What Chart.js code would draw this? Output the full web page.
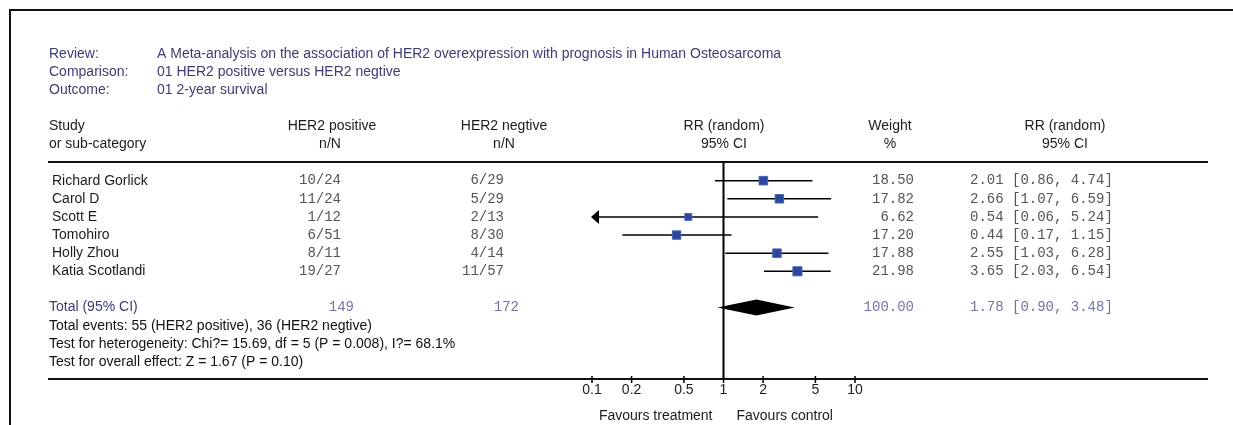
<!DOCTYPE html>
<html lang="en">
<head>
  <meta charset="UTF-8">
  <title>HER2 overexpression - 2-year survival</title>
  <script src="https://cdn.jsdelivr.net/npm/chart.js"></script>
  <style>
    html, body { margin: 0; padding: 0; background: #fff; overflow: hidden; }
    #wrap { width: 1233px; height: 425px; position: relative; }
  </style>
</head>
<body>
  <div id="wrap"><canvas id="forest"></canvas></div>

  <script>
    // data
    const studies = ["Richard Gorlick", "Carol D", "Scott E", "Tomohiro", "Holly Zhou", "Katia Scotlandi"];
    const posEvents = [10, 11, 1, 6, 8, 19];
    const posTotal = [24, 24, 12, 51, 11, 27];
    const negEvents = [6, 5, 2, 8, 4, 11];
    const negTotal = [29, 29, 13, 30, 14, 57];
    const weights = [18.50, 17.82, 6.62, 17.20, 17.88, 21.98];
    const rr = [2.01, 2.66, 0.54, 0.44, 2.55, 3.65];
    const lower = [0.86, 1.07, 0.06, 0.17, 1.03, 2.03];
    const upper = [4.74, 6.59, 5.24, 1.15, 6.28, 6.54];
    const totalRR = [1.78, 0.90, 3.48]; // estimate, lower, upper
    const totalN = [149, 172];
    const totalWeight = 100.00;
    const axisTicks = [0.1, 0.2, 0.5, 1, 2, 5, 10];

    const headerInfo = [
      ["Review:", "A Meta-analysis on the association of HER2 overexpression with prognosis in Human Osteosarcoma"],
      ["Comparison:", "01 HER2 positive versus HER2 negtive"],
      ["Outcome:", "01 2-year survival"]
    ];
    const footLines = [
      "Total events: 55 (HER2 positive), 36 (HER2 negtive)",
      "Test for heterogeneity: Chi?= 15.69, df = 5 (P = 0.008), I?= 68.1%",
      "Test for overall effect: Z = 1.67 (P = 0.10)"
    ];

    const SANS = '"Liberation Sans", Arial, sans-serif';
    const MONO = '"Liberation Mono", "Courier New", monospace';
    const BLUE_TXT = "#3c3c72";
    const BLUE_NUM = "#7474a4";

    const ciSets = studies.map((s, i) => ({
      type: 'line',
      data: [{ x: lower[i], y: i }, { x: upper[i], y: i }],
      borderColor: '#000',
      borderWidth: 1.5,
      pointRadius: 0,
      order: 2
    }));

    const pointSet = {
      type: 'scatter',
      data: rr.map((v, i) => ({ x: v, y: i })),
      pointStyle: 'rect',
      pointRadius: weights.map(w => (6 + 0.14 * w) / Math.SQRT2),
      backgroundColor: '#2c489c',
      borderColor: '#4a64b4',
      borderWidth: 1,
      order: 1
    };

    function fmt(v) { return v.toFixed(2); }

    const tablePlugin = {
      id: 'tablePlugin',
      afterDraw(chart) {
        const ctx = chart.ctx;
        const xs = chart.scales.x, ys = chart.scales.y;
        const area = chart.chartArea;
        const Y = r => ys.getPixelForValue(r);

        function text(s, x, row, align, font, color) {
          ctx.font = font;
          ctx.fillStyle = color;
          ctx.textAlign = align;
          ctx.textBaseline = 'middle';
          ctx.fillText(s, x, Y(row));
        }
        function hline(x1, x2, y, w) {
          ctx.beginPath();
          ctx.lineWidth = w;
          ctx.strokeStyle = '#111';
          ctx.moveTo(x1, y);
          ctx.lineTo(x2, y);
          ctx.stroke();
        }

        ctx.save();

        // frame
        hline(9, 1233, 10, 2);
        ctx.beginPath();
        ctx.lineWidth = 2;
        ctx.moveTo(10, 9);
        ctx.lineTo(10, 425);
        ctx.stroke();

        const sans = '14px ' + SANS;
        const mono = '14px ' + MONO;

        // review info
        headerInfo.forEach((h, k) => {
          text(h[0], 49, -7 + k, 'left', sans, BLUE_TXT);
          text(h[1], 157, -7 + k, 'left', sans, BLUE_TXT);
        });

        // column headers
        const hc = '#1c1c1c';
        text("Study", 49, -3, 'left', sans, hc);
        text("or sub-category", 49, -2, 'left', sans, hc);
        text("HER2 positive", 332, -3, 'center', sans, hc);
        text("n/N", 330, -2, 'center', sans, hc);
        text("HER2 negtive", 504, -3, 'center', sans, hc);
        text("n/N", 504, -2, 'center', sans, hc);
        text("RR (random)", 724, -3, 'center', sans, hc);
        text("95% CI", 724, -2, 'center', sans, hc);
        text("Weight", 890, -3, 'center', sans, hc);
        text("%", 890, -2, 'center', sans, hc);
        text("RR (random)", 1065, -3, 'center', sans, hc);
        text("95% CI", 1065, -2, 'center', sans, hc);

        hline(48, 1208, area.top, 2);

        // study rows
        studies.forEach((s, i) => {
          text(s, 52, i, 'left', sans, '#1c1c1c');
          text(posEvents[i] + "/" + posTotal[i], 341, i, 'right', mono, '#555');
          text(negEvents[i] + "/" + negTotal[i], 504, i, 'right', mono, '#555');
          text(fmt(weights[i]), 914, i, 'right', mono, '#555');
          text(fmt(rr[i]) + " [" + fmt(lower[i]) + ", " + fmt(upper[i]) + "]", 970, i, 'left', mono, '#555');

          // arrow where the CI runs past the axis
          if (lower[i] < xs.min) {
            const ax = xs.getPixelForValue(xs.min), ay = Y(i);
            ctx.beginPath();
            ctx.fillStyle = '#000';
            ctx.moveTo(ax - 1, ay);
            ctx.lineTo(ax + 7, ay - 7);
            ctx.lineTo(ax + 7, ay + 7);
            ctx.closePath();
            ctx.fill();
          }
        });

        // total row
        const tr = studies.length + 1;
        text("Total (95% CI)", 49, tr, 'left', sans, BLUE_TXT);
        text(String(totalN[0]), 354, tr, 'right', mono, BLUE_NUM);
        text(String(totalN[1]), 519, tr, 'right', mono, BLUE_NUM);
        text(fmt(totalWeight), 914, tr, 'right', mono, BLUE_NUM);
        text(fmt(totalRR[0]) + " [" + fmt(totalRR[1]) + ", " + fmt(totalRR[2]) + "]", 970, tr, 'left', mono, BLUE_NUM);

        // pooled diamond
        const dy = Y(tr);
        ctx.beginPath();
        ctx.fillStyle = '#000';
        ctx.moveTo(xs.getPixelForValue(totalRR[1]), dy);
        ctx.lineTo(xs.getPixelForValue(totalRR[0]), dy - 8);
        ctx.lineTo(xs.getPixelForValue(totalRR[2]), dy);
        ctx.lineTo(xs.getPixelForValue(totalRR[0]), dy + 8);
        ctx.closePath();
        ctx.fill();

        footLines.forEach((s, k) => text(s, 49, tr + 1 + k, 'left', sans, '#111'));

        // line of no effect
        const x1 = xs.getPixelForValue(1);
        ctx.beginPath();
        ctx.lineWidth = 2;
        ctx.strokeStyle = '#000';
        ctx.moveTo(x1, area.top);
        ctx.lineTo(x1, area.bottom);
        ctx.stroke();

        // bottom rule / axis
        hline(48, 1208, area.bottom, 2);
        axisTicks.forEach(t => {
          const tx = xs.getPixelForValue(t);
          ctx.beginPath();
          ctx.lineWidth = 1.5;
          ctx.strokeStyle = '#000';
          ctx.moveTo(tx, area.bottom - 3);
          ctx.lineTo(tx, area.bottom + 4);
          ctx.stroke();
          text(String(t), tx, 11.55, 'center', sans, '#1c1c1c');
        });
        text("Favours treatment", x1 - 11, 13, 'right', sans, '#1c1c1c');
        text("Favours control", x1 + 13, 13, 'left', sans, '#1c1c1c');

        ctx.restore();
      }
    };

    new Chart(document.getElementById("forest"), {
      type: 'scatter',
      data: { datasets: [...ciSets, pointSet] },
      options: {
        responsive: true,
        maintainAspectRatio: false,
        animation: false,
        layout: { padding: { left: 592, right: 378, top: 162, bottom: 46 } },
        scales: {
          x: { type: 'logarithmic', min: axisTicks[0], max: axisTicks[axisTicks.length - 1], display: false },
          y: { type: 'linear', min: -1.03, max: 10.94, reverse: true, display: false }
        },
        plugins: { legend: { display: false }, tooltip: { enabled: false } }
      },
      plugins: [tablePlugin]
    });
  </script>
</body>
</html>
